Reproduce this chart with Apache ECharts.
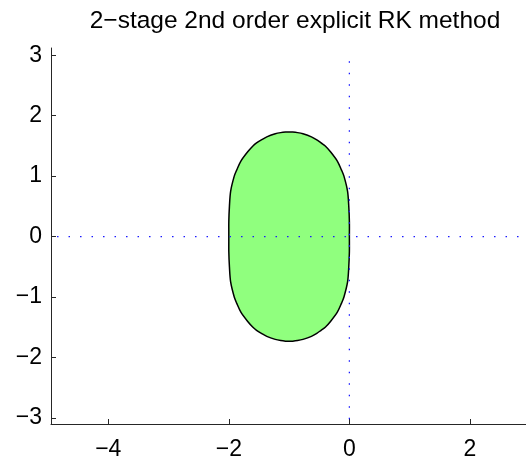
<!DOCTYPE html>
<html>
<head>
    <meta charset="utf-8">
    <script src="https://cdn.jsdelivr.net/npm/echarts@6/dist/echarts.min.js"></script>
    <style>
        body { margin: 0; background: #fff; }
    </style>
</head>
<body>
    <div id="main" style="width: 526px;height:464px;"></div>
    <script type="text/javascript">
        // stability region boundary (closed curve)
        var boundaryX = [-2.00, -2.00, -1.99, -1.97, -1.91, -1.87, -1.80, -1.69, -1.60, -1.54, -1.46, -1.37, -1.23, -1.14, -1.06, -1.00,
                         -0.94, -0.86, -0.77, -0.63, -0.54, -0.47, -0.40, -0.31, -0.20, -0.13, -0.09, -0.03, -0.01, 0.00, 0.00,
                         0.00, -0.01, -0.03, -0.09, -0.13, -0.20, -0.31, -0.40, -0.47, -0.54, -0.63, -0.77, -0.86, -0.94, -1.00,
                         -1.06, -1.14, -1.23, -1.37, -1.46, -1.54, -1.60, -1.69, -1.80, -1.87, -1.91, -1.97, -1.99, -2.00];
        var boundaryY = [0.00, 0.25, 0.50, 0.75, 1.00, 1.10, 1.25, 1.40, 1.50, 1.55, 1.60, 1.65, 1.70, 1.72, 1.73, 1.732,
                         1.73, 1.72, 1.70, 1.65, 1.60, 1.55, 1.50, 1.40, 1.25, 1.10, 1.00, 0.75, 0.50, 0.25, 0.00,
                         -0.25, -0.50, -0.75, -1.00, -1.10, -1.25, -1.40, -1.50, -1.55, -1.60, -1.65, -1.70, -1.72, -1.73, -1.732,
                         -1.73, -1.72, -1.70, -1.65, -1.60, -1.55, -1.50, -1.40, -1.25, -1.10, -1.00, -0.75, -0.50, -0.25];
        // dotted axes through the origin
        var realAxis = [[-4.85, 0], [2.93, 0]];
        var imagAxis = [[0, 2.9], [0, -3.1]];
        var xTicks = [-4, -2, 0, 2];
        var yTicks = [-3, -2, -1, 0, 1, 2, 3];
        var titleText = '2\u2212stage 2nd order explicit RK method';

        var font = 'Liberation Sans';
        function minus(v) {
            return String(v).replace('-', '\u2212');
        }

        option = {
            animation: false,
            title: {
                text: titleText,
                left: 290,
                top: 4,
                textAlign: 'center',
                textStyle: {
                    fontFamily: font,
                    fontSize: 24.5,
                    fontWeight: 'normal',
                    color: '#000'
                }
            },
            grid: {
                left: 51,
                top: 48,
                right: 0,
                bottom: 40
            },
            xAxis: {
                type: 'value',
                min: -4.95,
                max: 2.93,
                axisLine: {onZero: false, lineStyle: {color: '#262626', width: 1}},
                axisTick: {inside: true, length: 5, customValues: xTicks, lineStyle: {color: '#262626'}},
                axisLabel: {
                    customValues: xTicks,
                    formatter: minus,
                    margin: 14,
                    fontFamily: font,
                    fontSize: 23,
                    color: '#000'
                },
                splitLine: {show: false}
            },
            yAxis: {
                type: 'value',
                min: -3.1,
                max: 3.12,
                axisLine: {onZero: false, lineStyle: {color: '#262626', width: 1}},
                axisTick: {inside: true, length: 5, customValues: yTicks, lineStyle: {color: '#262626'}},
                axisLabel: {
                    customValues: yTicks,
                    formatter: minus,
                    margin: 9,
                    fontFamily: font,
                    fontSize: 23,
                    color: '#000'
                },
                splitLine: {show: false}
            },
            series: [
                {
                    name: 'region',
                    type: 'custom',
                    data: [[-1, 0]],
                    renderItem: function (params, api) {
                        var pts = [];
                        for (var i = 0; i < boundaryX.length; i++) {
                            pts.push(api.coord([boundaryX[i], boundaryY[i]]));
                        }
                        return {
                            type: 'polygon',
                            shape: {points: pts, smooth: 0.3},
                            style: {fill: '#90ff7e', stroke: '#000', lineWidth: 1.5}
                        };
                    },
                    z: 1
                },
                {
                    name: 'real',
                    type: 'line',
                    data: realAxis,
                    symbol: 'none',
                    lineStyle: {color: '#1a1aff', width: 1.3, type: [1.5, 10]},
                    z: 3
                },
                {
                    name: 'imag',
                    type: 'line',
                    data: imagAxis,
                    symbol: 'none',
                    lineStyle: {color: '#1a1aff', width: 1.3, type: [1.5, 10]},
                    z: 3
                }
            ]
        };

        var myChart = echarts.init(document.getElementById('main'));
        myChart.setOption(option);
    </script>
</body>
</html>
